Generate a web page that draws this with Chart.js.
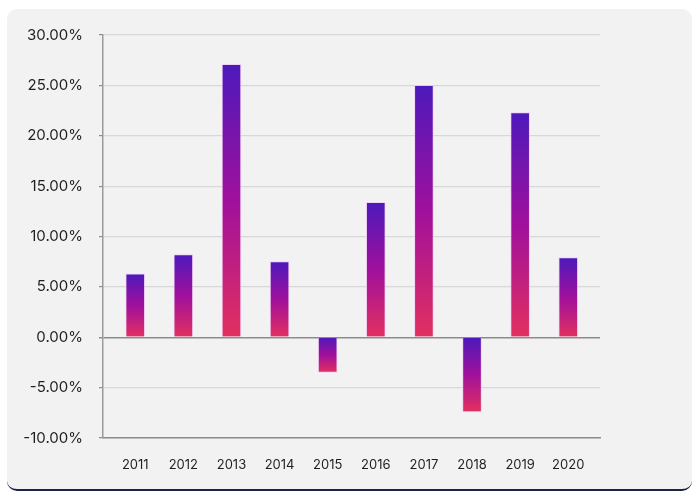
<!DOCTYPE html>
<html>
<head>
<meta charset="utf-8">
<script src="https://cdn.jsdelivr.net/npm/chart.js@4"></script>
<style>
  html, body { margin: 0; padding: 0; background: #ffffff; }
  #card {
    position: absolute; left: 7px; top: 9px; width: 685px; height: 480px;
    background: #f2f2f2; border-radius: 10px;
    border-bottom: 2px solid #1c2446;
  }
  #wrap { position: absolute; left: 0; top: 0; width: 700px; height: 500px; }
</style>
</head>
<body>
<div id="card"></div>
<div id="wrap"><canvas id="returnsChart" width="700" height="500"></canvas></div>
<script>
const years = ['2011', '2012', '2013', '2014', '2015', '2016', '2017', '2018', '2019', '2020'];
const returns = [6.3, 8.2, 27.1, 7.5, -3.5, 13.4, 25.0, -7.4, 22.3, 7.9];
const yTicks = [-10, -5, 0, 5, 10, 15, 20, 25, 30];

const points = returns.map((v, i) => ({ x: i, y: v }));

// gradient runs from the bar's end at the top to its end at the bottom
function barGradient(context) {
  const chart = context.chart;
  if (!chart.chartArea || context.raw === undefined) return '#a0109a';
  const yScale = chart.scales.y;
  const v = context.raw.y;
  const p0 = yScale.getPixelForValue(0);
  const p1 = yScale.getPixelForValue(v);
  const top = Math.min(p0, p1), bottom = Math.max(p0, p1);
  const g = chart.ctx.createLinearGradient(0, top, 0, bottom);
  g.addColorStop(0, '#4d19bb');
  g.addColorStop(0.5, '#a0109c');
  g.addColorStop(1, '#e2305f');
  return g;
}

const textColor = '#1f1f1f';

new Chart(document.getElementById('returnsChart'), {
  type: 'bar',
  data: {
    datasets: [{
      data: points,
      backgroundColor: barGradient,
      borderColor: 'rgba(240, 190, 245, 0.6)',
      borderWidth: 1,
      barThickness: 19
    }]
  },
  options: {
    responsive: false,
    animation: false,
    layout: { padding: { left: 0, right: 100, top: 35, bottom: 0 } },
    plugins: { legend: { display: false }, tooltip: { enabled: false } },
    scales: {
      x: {
        type: 'linear',
        offset: false,
        min: -0.67,
        max: 9.66,
        afterBuildTicks: (axis) => { axis.ticks = years.map((_, i) => ({ value: i })); },
        afterFit: (axis) => { axis.height = 62; },
        grid: { display: false },
        border: { display: true, color: '#8c8c8c', width: 1.5 },
        ticks: {
          autoSkip: false,
          maxRotation: 0,
          padding: 11,
          color: textColor,
          font: { family: 'Inter', size: 13 },
          callback: (v) => years[v] ?? ''
        }
      },
      y: {
        min: -10,
        max: 30,
        afterBuildTicks: (axis) => { axis.ticks = yTicks.map(v => ({ value: v })); },
        afterFit: (axis) => { axis.width = 103; },
        grid: {
          color: (c) => (c.tick && c.tick.value === 0) ? '#8c8c8c' : '#d8d8d8',
          lineWidth: (c) => (c.tick && c.tick.value === 0) ? 1.5 : 1.2,
          tickLength: 4,
          tickColor: '#8c8c8c'
        },
        border: { display: true, color: '#9a9a9a', width: 1.5 },
        ticks: {
          padding: 16,
          color: textColor,
          font: { family: 'Inter', size: 15 },
          callback: (v) => v.toFixed(2) + '%'
        }
      }
    }
  }
});
</script>
</body>
</html>
